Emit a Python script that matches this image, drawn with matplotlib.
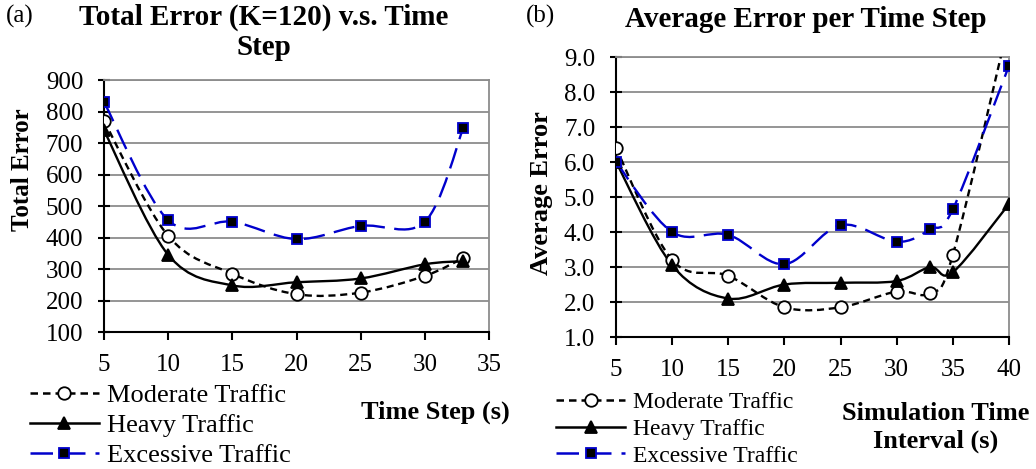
import numpy as np
import matplotlib
matplotlib.use("Agg")
import matplotlib.pyplot as plt
from matplotlib.path import Path
from matplotlib.patches import PathPatch
from matplotlib.lines import Line2D

plt.rcParams['font.family'] = ['Liberation Serif', 'DejaVu Serif']

# ---- data (a) ----
steps_a = [5, 10, 15, 20, 25, 30, 33]
moderate_a = [770, 405, 285, 220, 225, 278, 335]
heavy_a = [740, 345, 248, 258, 270, 315, 325]
excessive_a = [830, 455, 450, 395, 437, 450, 748]

# ---- data (b) ----
steps_b = [5, 10, 15, 20, 25, 30, 33, 35, 40]
moderate_b = [6.4, 3.2, 2.75, 1.85, 1.85, 2.3, 2.25, 3.35, 10.0]
heavy_b = [6.0, 3.05, 2.1, 2.5, 2.55, 2.6, 3.0, 2.85, 4.8]
excessive_b = [6.0, 4.0, 3.92, 3.08, 4.2, 3.72, 4.08, 4.65, 8.75]

labels = ["Moderate Traffic", "Heavy Traffic", "Excessive Traffic"]
BLUE = "#0000cc"
styles = [
    dict(color="black", ls=(0, (3, 2)), marker="o", mfc="white", mec="black", ms=9),
    dict(color="black", ls="-", marker="^", mfc="black", mec="black", ms=9),
    dict(color=BLUE, ls=(0, (9, 4)), marker="s", mfc="black", mec=BLUE, ms=7),
]


def smooth_path(x, y):
    # Excel-style smoothed line: cubic bezier through the points
    x = np.asarray(x, float)
    y = np.asarray(y, float)
    pts = np.column_stack([x, y])
    n = len(pts)
    verts = [pts[0]]
    codes = [Path.MOVETO]
    for i in range(n - 1):
        p0 = pts[i - 1] if i > 0 else pts[i]
        p1 = pts[i]
        p2 = pts[i + 1]
        p3 = pts[i + 2] if i + 2 < n else pts[i + 1]
        c1 = p1 + (p2 - p0) / 6.0
        c2 = p2 - (p3 - p1) / 6.0
        verts += [c1, c2, p2]
        codes += [Path.CURVE4] * 3
    return Path(verts, codes)


def draw(ax, x, series, ylim, yticks, xlim, xticks, fmt):
    ax.set_xlim(*xlim)
    ax.set_ylim(*ylim)
    for y, st in zip(series, styles):
        patch = PathPatch(smooth_path(x, y), fill=False, edgecolor=st["color"],
                          linestyle=st["ls"], lw=1.7, zorder=3)
        ax.add_patch(patch)
        ax.plot(x, y, ls="none", marker=st["marker"], mfc=st["mfc"], mec=st["mec"],
                mew=1.3, ms=st["ms"], zorder=4, clip_on=True)
    ax.set_yticks(yticks)
    ax.set_yticklabels([fmt.format(v) for v in yticks], fontsize=18)
    ax.set_xticks(xticks)
    ax.set_xticklabels([str(v) for v in xticks], fontsize=18)
    ax.grid(axis="y", color="#8c8c8c", lw=1.3)
    ax.set_axisbelow(True)
    for s in ["top", "right"]:
        ax.spines[s].set_color("#8c8c8c")
        ax.spines[s].set_linewidth(1.3)
    for s in ["left", "bottom"]:
        ax.spines[s].set_color("black")
        ax.spines[s].set_linewidth(1.5)
    ax.tick_params(axis="y", direction="inout", length=8, width=1.5, pad=11)
    ax.tick_params(axis="x", direction="out", length=6, width=1.5, pad=10)


def legend_handles():
    hs = []
    for st in styles:
        hs.append(Line2D([], [], color=st["color"], ls=st["ls"], lw=1.8, marker=st["marker"],
                         mfc=st["mfc"], mec=st["mec"], ms=st["ms"], mew=1.3))
    return hs


fig = plt.figure(figsize=(10.36, 4.69), dpi=100)

ax1 = fig.add_axes([0.1004, 0.2921, 0.3716, 0.5373])
draw(ax1, steps_a, [moderate_a, heavy_a, excessive_a], (100, 900),
     list(range(100, 901, 100)), (5, 35), list(range(5, 36, 5)), "{:d}")
fig.text(0.255, 0.992, "Total Error (K=120) v.s. Time\nStep", ha="center", va="top",
         fontsize=21, fontweight="bold", linespacing=1.15)
fig.text(0.006, 0.99, "(a)", ha="left", va="top", fontsize=18)
fig.text(0.022, 0.638, "Total Error", rotation=90, ha="center", va="center",
         fontsize=18, fontweight="bold")
fig.text(0.492, 0.121, "Time Step (s)", ha="right", va="center",
         fontsize=19, fontweight="bold")
fig.legend(legend_handles(), labels, loc="upper left", bbox_to_anchor=(0.029, 0.182),
           frameon=False, fontsize=19, handlelength=2.6, handletextpad=0.3,
           labelspacing=0.25, borderaxespad=0, borderpad=0)

ax2 = fig.add_axes([0.5946, 0.2814, 0.3793, 0.5970])
draw(ax2, steps_b, [moderate_b, heavy_b, excessive_b], (1.0, 9.0),
     [1.0, 2.0, 3.0, 4.0, 5.0, 6.0, 7.0, 8.0, 9.0], (5, 40), list(range(5, 41, 5)), "{:.1f}")
fig.text(0.778, 0.988, "Average Error per Time Step", ha="center", va="top",
         fontsize=21, fontweight="bold")
fig.text(0.508, 0.99, "(b)", ha="left", va="top", fontsize=18)
fig.text(0.523, 0.588, "Average Error", rotation=90, ha="center", va="center",
         fontsize=19, fontweight="bold")
fig.text(0.903, 0.0885, "Simulation Time\nInterval (s)", ha="center", va="center",
         fontsize=19, fontweight="bold", linespacing=1.2)
fig.legend(legend_handles(), labels, loc="upper left", bbox_to_anchor=(0.537, 0.165),
           frameon=False, fontsize=17, handlelength=2.9, handletextpad=0.34,
           labelspacing=0.22, borderaxespad=0, borderpad=0)

fig.savefig("out.png", dpi=100)
